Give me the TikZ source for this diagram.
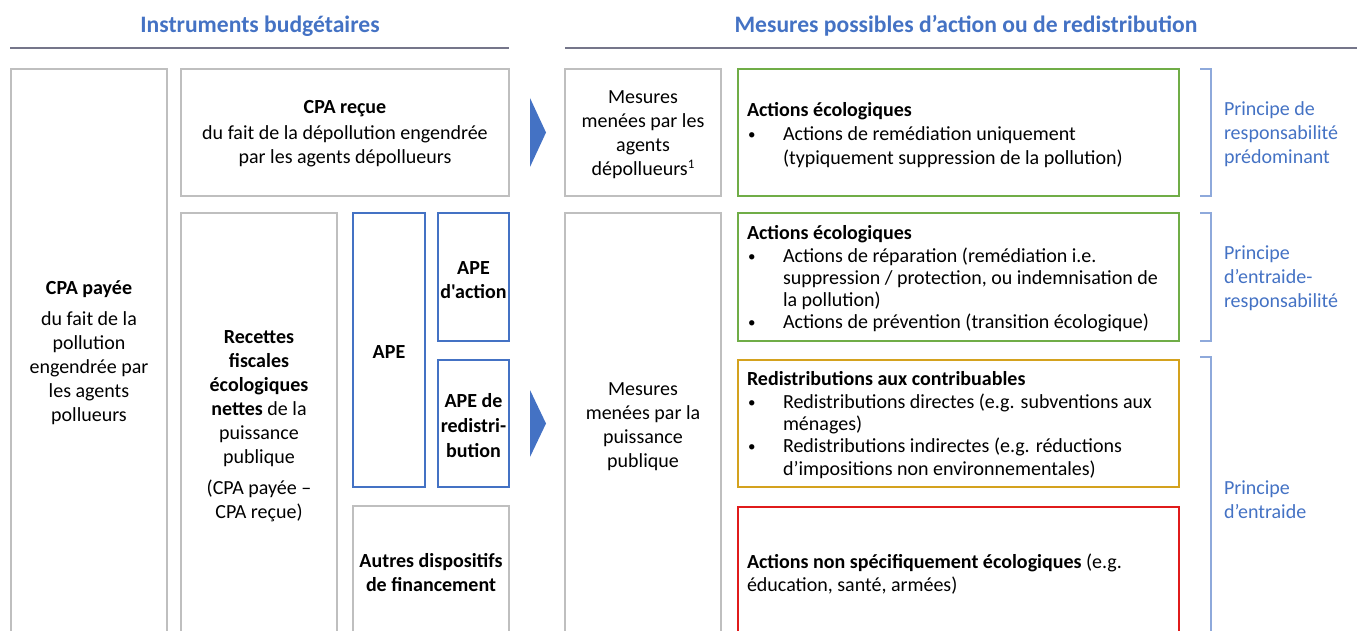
\documentclass[tikz,border=0pt]{standalone}
\usepackage{fontspec}
\setmainfont{Carlito}
\newfontfamily\nomap{Carlito}
\usetikzlibrary{calc}
\definecolor{hblue}{HTML}{4472C4}
\definecolor{lblue}{HTML}{8EA9DB}
\definecolor{bgray}{HTML}{BFBFBF}
\definecolor{lgray}{HTML}{75768A}
\definecolor{ggreen}{HTML}{70AD47}
\definecolor{gold}{HTML}{D4A21E}
\definecolor{rred}{HTML}{E01B1B}
\newcommand{\bul}{\makebox[36pt][l]{\hspace{1pt}\raisebox{1pt}{\fontsize{15}{15}\selectfont •}}}
\newcommand{\ind}{\hspace*{36pt}}
\begin{document}
\begin{tikzpicture}[x=1pt,y=-1pt,
  every node/.style={inner sep=0pt, outer sep=0pt},
  graybox/.style={draw=bgray, line width=1.3pt, fill=white},
  bluebox/.style={draw=hblue, line width=2pt},
  greenbox/.style={draw=ggreen, line width=2pt},
  goldbox/.style={draw=gold, line width=2pt},
  redbox/.style={draw=rred, line width=2pt},
  txt/.style={font=\fontsize{20}{24}\selectfont, align=center},
  ltxt/.style={font=\fontsize{20}{22.3}\selectfont, align=left, anchor=west},
  head/.style={font=\fontsize{23.6}{27}\selectfont\bfseries, text=hblue},
  princ/.style={font=\fontsize{20}{24}\selectfont, align=left, anchor=west, text=hblue},
  brk/.style={draw=lblue, line width=1.6pt},
  tri/.style={fill=hblue}
]
\useasboundingbox (0,0) rectangle (1357,631);

% headers
\node[head] (h1) at (260,26) {Instruments budgétaires};
\node[head] (h2) at (966,26) {Mesures possibles d’action ou de redistribution};
\draw[lgray, line width=1.5pt] (10,48) -- (509,48);
\draw[lgray, line width=1.5pt] (565,48) -- (1357,48);

% boxes
\node[graybox, minimum width=156pt, minimum height=568pt] (cpap) at (89,353) {};
\node[graybox, minimum width=328pt, minimum height=127pt] (cpar) at (345,132.5) {};
\node[graybox, minimum width=156pt, minimum height=127pt] (mes1) at (643,132.5) {};
\node[greenbox, minimum width=441pt, minimum height=127pt] (eco1) at (958.5,132.5) {};
\node[graybox, minimum width=156pt, minimum height=424pt] (rec) at (259,425) {};
\node[bluebox, minimum width=72pt, minimum height=274pt] (ape) at (389,350) {};
\node[bluebox, minimum width=71pt, minimum height=128pt] (apea) at (473.5,277) {};
\node[bluebox, minimum width=71pt, minimum height=127pt] (aper) at (473.5,423.5) {};
\node[graybox, minimum width=156pt, minimum height=131pt] (autres) at (431,571.5) {};
\node[graybox, minimum width=156pt, minimum height=424pt] (mes2) at (643,425) {};
\node[greenbox, minimum width=441pt, minimum height=128pt] (eco2) at (958.5,277) {};
\node[goldbox, minimum width=441pt, minimum height=127pt] (redis) at (958.5,423.5) {};
\node[redbox, minimum width=441pt, minimum height=133pt] (nonspe) at (958.5,573.5) {};

% texts in boxes
\node[txt] (tcpap) at (89,353) {\textbf{CPA payée}\\[7pt]du fait de la\\pollution\\engendrée par\\les agents\\pollueurs};
\node[txt] (tcpar) at (345,134) {\textbf{CPA reçue}\\[2pt]du fait de la dépollution engendrée\\par les agents dépollueurs};
\node[txt] (tmes1) at (643,134.5) {Mesures\\menées par les\\agents\\dépollueurs\raisebox{7pt}{\fontsize{13}{13}\selectfont 1}};
\node[txt] (trec) at (259,426) {\textbf{Recettes}\\\textbf{fiscales}\\\textbf{écologiques}\\\textbf{nettes} de la\\puissance\\publique\\[7pt](CPA payée –\\CPA reçue)};
\node[txt, font=\fontsize{20}{24}\selectfont\bfseries] (tape) at (389,352) {APE};
\node[txt, font=\fontsize{20}{23.5}\nomap\bfseries] (tapea) at (473.5,280) {APE\\d'action};
\node[txt, font=\fontsize{20}{25}\selectfont\bfseries] (taper) at (473.5,426) {APE de\\redistri-\\bution};
\node[txt, font=\fontsize{20}{24}\selectfont\bfseries] (tautres) at (431,573) {Autres dispositifs\\de financement};
\node[txt] (tmes2) at (643,426.5) {Mesures\\menées par la\\puissance\\publique};

\node[ltxt, font=\fontsize{20}{24}\selectfont] (teco1) at ($(eco1.west)+(9,2.5)$) {\textbf{Actions écologiques}\\\bul Actions de remédiation uniquement\\\ind (typiquement suppression de la pollution)};
\node[ltxt] (teco2) at ($(eco2.west)+(9,2)$) {\textbf{Actions écologiques}\\\bul Actions de réparation (remédiation i.e.\\\ind suppression / protection, ou indemnisation de\\\ind la pollution)\\\bul Actions de prévention (transition écologique)};
\node[ltxt] (tredis) at ($(redis.west)+(9,1.5)$) {\textbf{Redistributions aux contribuables}\\\bul Redistributions directes (e.g. subventions aux\\\ind ménages)\\\bul Redistributions indirectes (e.g. réductions\\\ind d’impositions non environnementales)};
\node[ltxt] (tnonspe) at ($(nonspe.west)+(9,0.5)$) {\textbf{Actions non spécifiquement écologiques} (e.g.\\éducation, santé, armées)};

% arrows
\fill[tri] ($(cpar.east)+(21,-34.5)$) -- ($(cpar.east)+(37,0)$) -- ($(cpar.east)+(21,34.5)$) -- cycle;
\coordinate (a2) at (530,423.5);
\fill[tri] ($(a2)+(0,-33.5)$) -- ($(a2)+(16,0)$) -- ($(a2)+(0,33.5)$) -- cycle;

% brackets
\draw[brk] (1200,69) -- (1211,69) -- (1211,196) -- (1200,196);
\draw[brk] (1200,213) -- (1211,213) -- (1211,341) -- (1200,341);
\draw[brk] (1200,357) -- (1211,357) -- (1211,640);

% principle labels
\node[princ] (p1) at (1224,134) {Principe de\\responsabilité\\prédominant};
\node[princ] (p2) at (1224,278) {Principe\\d’entraide-\\responsabilité};
\node[princ] (p3) at (1224,500) {Principe\\d’entraide};
\end{tikzpicture}
\end{document}
